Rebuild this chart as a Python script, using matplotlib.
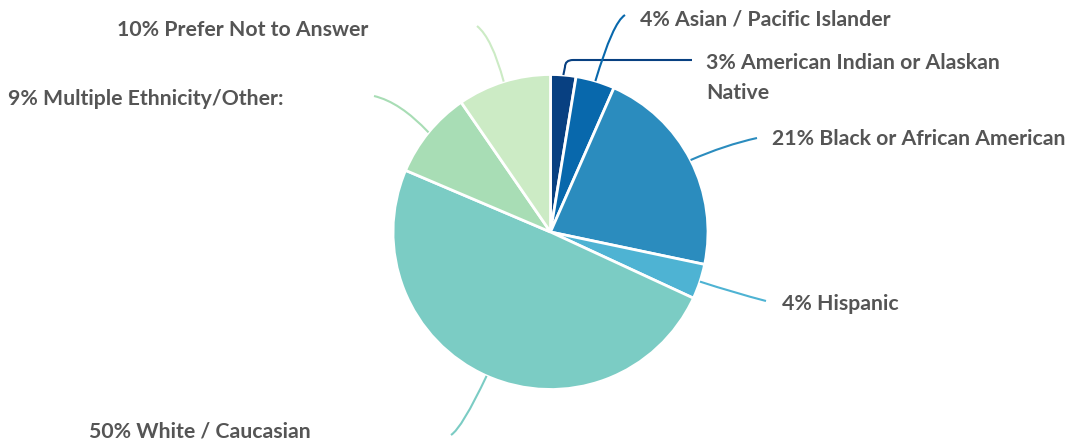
import numpy as np
import matplotlib
matplotlib.use("Agg")
from matplotlib import pyplot as plt
from matplotlib.path import Path
from matplotlib.patches import PathPatch

# dados (fatias em %)
categorias = ["American Indian or Alaskan\nNative", "Asian / Pacific Islander",
              "Black or African American", "Hispanic", "White / Caucasian",
              "Multiple Ethnicity/Other:", "Prefer Not to Answer"]
rotulos_pct = [3, 4, 21, 4, 50, 9, 10]
valores = [2.6, 4.0, 21.7, 3.6, 49.5, 9.0, 9.6]
cores = ["#084081", "#0868ac", "#2b8cbe", "#4eb3d3", "#7bccc4", "#a8ddb5", "#ccebc5"]

W, H = 1072, 442
cx, cy, R = 550.5, 232, 157.5

# linhas guia (pixels, y para baixo): pontos depois do inicio + codigos
guias = [
    ([(565, 67), (565, 60), (573, 60), (692, 60)],
     [Path.LINETO, Path.CURVE3, Path.CURVE3, Path.LINETO]),
    ([(613, 22), (625, 15)], [Path.CURVE3, Path.CURVE3]),
    ([(725, 145), (757, 138)], [Path.CURVE3, Path.CURVE3]),
    ([(735, 293), (766, 301)], [Path.CURVE3, Path.CURVE3]),
    ([(462, 428), (451, 435)], [Path.CURVE3, Path.CURVE3]),
    ([(400, 102), (374, 96)], [Path.CURVE3, Path.CURVE3]),
    ([(492, 38), (477, 26)], [Path.CURVE3, Path.CURVE3]),
]
# posicao do texto e alinhamento
textos = [((706, 78), "left"), ((640, 19), "left"), ((772, 139), "left"),
          ((782, 304), "left"), ((89, 432), "left"), ((284, 99), "right"),
          ((368, 30), "right")]

fig = plt.figure(figsize=(W / 100, H / 100), dpi=100)
ax = fig.add_axes([0, 0, 1, 1])

fatias, _ = ax.pie(valores, colors=cores, startangle=90, counterclock=False,
                   center=(cx, H - cy), radius=R,
                   wedgeprops=dict(edgecolor="white", linewidth=2))
ax.set_xlim(0, W)
ax.set_ylim(0, H)
ax.set_aspect("equal")
ax.axis("off")

for fatia, cor, cat, pct, (pts, cods), (txt, ha) in zip(fatias, cores, categorias, rotulos_pct, guias, textos):
    ang = np.deg2rad((fatia.theta1 + fatia.theta2) / 2)
    x0 = cx + R * np.cos(ang)
    y0 = (H - cy) + R * np.sin(ang)
    vert = [(x0, y0)] + [(p[0], H - p[1]) for p in pts]
    caminho = Path(vert, [Path.MOVETO] + cods)
    ax.add_patch(PathPatch(caminho, fill=False, edgecolor=cor, linewidth=1.5))
    ax.text(txt[0], H - txt[1], f"{pct}% {cat}", ha=ha, va="center",
            fontsize=15.3, fontweight="bold", family="Lato", color="#555555",
            linespacing=1.6)

fig.savefig("out.png", dpi=100)
